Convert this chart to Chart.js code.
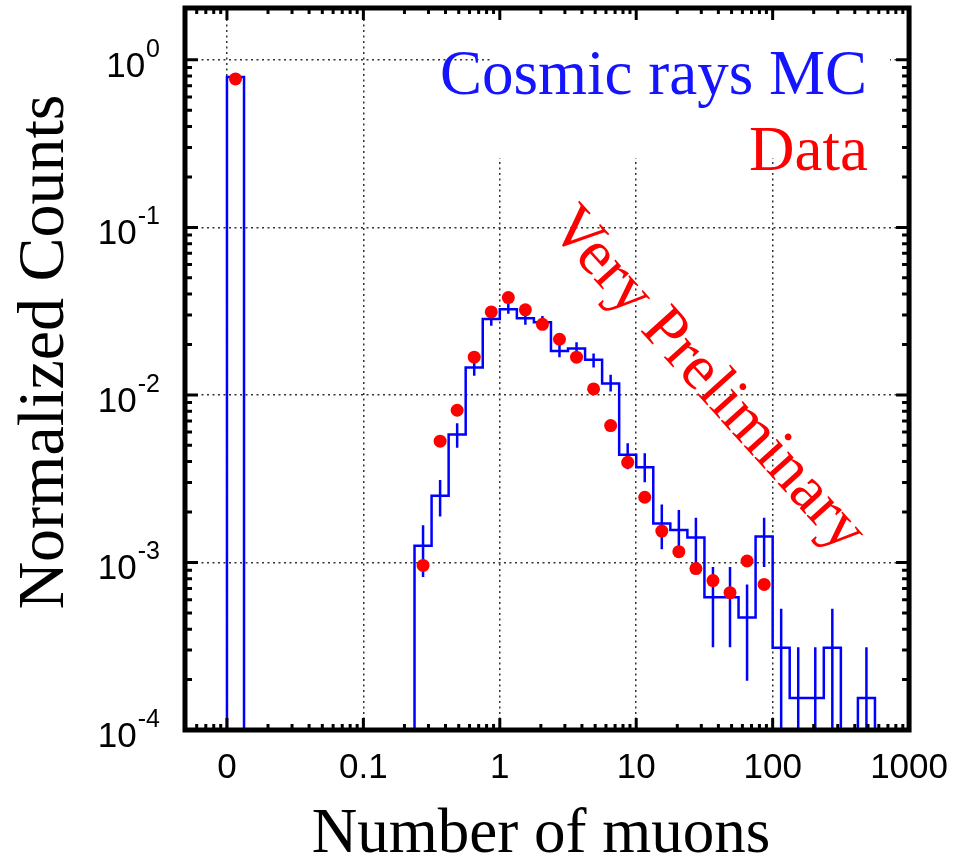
<!DOCTYPE html>
<html lang="en">
<head>
    <meta charset="UTF-8">
    <title>Number of muons - Cosmic rays MC vs Data</title>
    <script src="https://cdn.jsdelivr.net/npm/chart.js"></script>
    <style>
        html, body {
            margin: 0;
            padding: 0;
            background: #fff;
        }
        canvas { display: block; }
    </style>
</head>
<body>
    <canvas id="muonChart" width="965" height="864"></canvas>
    <script>
      // the "0" bin is drawn at 0.01 on the log axis
      const zeroBin = [0.01, 0.01334];
      // bin edges, 8 per decade
      const binEdges = [0.2371, 0.3162, 0.4217, 0.5623, 0.7499, 1.0, 1.3335, 1.7783, 2.3714,
                        3.1623, 4.2170, 5.6234, 7.4989, 10, 13.335, 17.783, 23.714, 31.623,
                        42.170, 56.234, 74.989, 100, 133.35, 177.83, 237.14, 316.23, 421.70, 562.34];

      // Cosmic rays MC (blue histogram)
      const mcZero = 0.79;
      const mcValues = [1.26e-3, 2.5e-3, 5.8e-3, 1.46e-2, 2.84e-2, 3.25e-2, 2.87e-2, 2.72e-2, 1.83e-2,
                        1.89e-2, 1.62e-2, 1.17e-2, 4.4e-3, 3.7e-3, 1.71e-3, 1.56e-3, 1.41e-3, 6.2e-4,
                        6.2e-4, 4.7e-4, 1.43e-3, 3.1e-4, 1.55e-4, 1.55e-4, 3.1e-4, 0, 1.55e-4];
      const mcErrHigh = [1.67e-3, 3.11e-3, 6.78e-3, 1.62e-2, 3.09e-2, 3.49e-2, 3.09e-2, 2.96e-2, 1.99e-2,
                         2.06e-2, 1.77e-2, 1.32e-2, 5.15e-3, 4.49e-3, 2.22e-3, 2.06e-3, 1.85e-3, 9.4e-4,
                         9.4e-4, 7.4e-4, 1.85e-3, 5.3e-4, 3.12e-4, 3.12e-4, 5.3e-4, 0, 3.12e-4];
      const mcErrLow = [8.2e-4, 1.88e-3, 4.84e-3, 1.30e-2, 2.59e-2, 3.05e-2, 2.62e-2, 2.51e-2, 1.68e-2,
                        1.73e-2, 1.46e-2, 1.05e-2, 3.60e-3, 3.01e-3, 1.20e-3, 1.07e-3, 9.9e-4, 3.12e-4,
                        3.12e-4, 1.97e-4, 9.4e-4, 0, 0, 0, 0, 0, 0];

      // Data (red points), one per bin starting with the first bin
      const dataZero = 0.77;
      const dataValues = [9.6e-4, 5.3e-3, 8.1e-3, 1.68e-2, 3.13e-2, 3.81e-2, 3.22e-2, 2.64e-2, 2.15e-2,
                          1.68e-2, 1.086e-2, 6.56e-3, 3.96e-3, 2.45e-3, 1.54e-3, 1.16e-3, 9.2e-4, 7.8e-4,
                          6.6e-4, 1.02e-3, 7.4e-4];

      // axes
      const xMin = 0.004926, xMax = 1000;
      const yMin = 1e-4, yMax = 2.04;
      const xTicks = [0.01, 0.1, 1, 10, 100, 1000];
      const xTickLabels = ['0', '0.1', '1', '10', '100', '1000'];
      const yTicks = [1e-4, 1e-3, 1e-2, 1e-1, 1];
      const yTickExps = ['-4', '-3', '-2', '-1', '0'];

      const FLOOR = 1e-6; // empty bins fall below the axis and are clipped
      const SERIF = '"Liberation Serif", "Times New Roman", serif';
      const SANS = '"Liberation Sans", Arial, sans-serif';

      // step outline
      const mcLine = [
        { x: zeroBin[0], y: FLOOR }, { x: zeroBin[0], y: mcZero }, { x: zeroBin[1], y: FLOOR }
      ];
      mcValues.forEach((v, i) => mcLine.push({ x: binEdges[i], y: v > 0 ? v : FLOOR }));
      mcLine.push({ x: binEdges[binEdges.length - 1], y: FLOOR });

      const centers = mcValues.map((v, i) => Math.sqrt(binEdges[i] * binEdges[i + 1]));

      const errPts = [];
      mcErrHigh.forEach((hi, i) => {
        if (!hi) return;
        errPts.push({ x: centers[i], y: mcErrLow[i] || FLOOR }, { x: centers[i], y: hi }, { x: centers[i], y: null });
      });

      const dataPts = [{ x: Math.sqrt(zeroBin[0] * zeroBin[1]), y: dataZero }];
      dataValues.forEach((v, i) => dataPts.push({ x: centers[i], y: v }));

      // minor tick positions
      const xMinor = [];
      [-3, -2, -1, 0, 1, 2].forEach(d => {
        for (let m = 2; m <= 9; m++) {
          const v = m * Math.pow(10, d);
          if (v > xMin * 1.02 && v < xMax) xMinor.push(v);
        }
      });
      const yMinor = [];
      [-4, -3, -2, -1, 0].forEach(d => {
        for (let m = 2; m <= 9; m++) {
          const v = m * Math.pow(10, d);
          if (v < yMax * 0.98) yMinor.push(v);
        }
      });

      const muonDecor = {
        id: 'muonDecor',
        beforeDatasetsDraw(chart) {
          // the legend block hides the grid behind it
          const c = chart.ctx, a = chart.chartArea;
          c.save();
          c.fillStyle = '#fff';
          c.fillRect(493, a.top, 397, 158 - a.top);
          c.restore();
        },
        afterDatasetsDraw(chart) {
          const c = chart.ctx, a = chart.chartArea;
          const xs = chart.scales.x, ys = chart.scales.y;
          c.save();
          c.strokeStyle = '#000';
          c.lineWidth = 3;
          c.beginPath();
          const xt = (v, len) => {
            const px = xs.getPixelForValue(v);
            c.moveTo(px, a.bottom); c.lineTo(px, a.bottom - len);
            c.moveTo(px, a.top); c.lineTo(px, a.top + len);
          };
          const yt = (v, len) => {
            const py = ys.getPixelForValue(v);
            c.moveTo(a.left, py); c.lineTo(a.left + len, py);
            c.moveTo(a.right, py); c.lineTo(a.right - len, py);
          };
          xTicks.forEach(v => xt(v, 12));
          xMinor.forEach(v => xt(v, 6));
          yTicks.forEach(v => yt(v, 13));
          yMinor.forEach(v => yt(v, 7));
          c.stroke();
          c.lineWidth = 5;
          c.strokeRect(a.left, a.top, a.right - a.left, a.bottom - a.top);
          c.restore();
        },
        afterDraw(chart) {
          const c = chart.ctx, ys = chart.scales.y;
          c.save();
          c.fillStyle = '#000';
          c.textAlign = 'right';
          c.textBaseline = 'alphabetic';
          // y tick labels 10^n
          yTicks.forEach((v, i) => {
            const py = ys.getPixelForValue(v);
            c.font = '25px ' + SANS;
            c.fillText(yTickExps[i], 160, py - 3);
            const w = c.measureText(yTickExps[i]).width;
            c.font = '35px ' + SANS;
            c.fillText('10', 159 - w, py + 17);
          });

          // axis titles
          c.textAlign = 'center';
          c.font = '63px ' + SERIF;
          c.fillText('Number of muons', 541, 852);
          c.save();
          c.translate(63, 352);
          c.rotate(-Math.PI / 2);
          c.font = '66px ' + SERIF;
          c.fillText('Normalized Counts', 0, 0);
          c.restore();

          // legend text
          c.textAlign = 'right';
          c.font = '63px ' + SERIF;
          c.fillStyle = '#1414ff';
          c.fillText('Cosmic rays MC', 867, 94);
          c.fillStyle = '#ff0000';
          c.fillText('Data', 868, 170);

          // stamp
          c.save();
          c.translate(707, 380);
          c.rotate(48 * Math.PI / 180);
          c.textAlign = 'center';
          c.textBaseline = 'middle';
          c.font = '64px ' + SERIF;
          c.fillText('Very Preliminary', 0, 0);
          c.restore();
          c.restore();
        }
      };

      const ctx = document.getElementById('muonChart').getContext('2d');
      new Chart(ctx, {
        type: 'scatter',
        data: {
          datasets: [
            {
              type: 'line',
              label: 'Cosmic rays MC',
              data: mcLine,
              stepped: 'before',
              borderColor: '#0000ff',
              borderWidth: 2.5,
              pointRadius: 0,
              fill: false,
              order: 3
            },
            {
              type: 'line',
              label: 'MC errors',
              data: errPts,
              borderColor: '#0000ff',
              borderWidth: 2.5,
              pointRadius: 0,
              spanGaps: false,
              fill: false,
              order: 2
            },
            {
              type: 'scatter',
              label: 'Data',
              data: dataPts,
              pointRadius: 6.5,
              pointHoverRadius: 6.5,
              backgroundColor: '#ff0000',
              borderWidth: 0,
              order: 1
            }
          ]
        },
        options: {
          responsive: false,
          animation: false,
          events: [],
          layout: { padding: { top: 8, right: 55, bottom: 0, left: 0 } },
          plugins: {
            legend: { display: false },
            tooltip: { enabled: false }
          },
          scales: {
            x: {
              type: 'logarithmic',
              min: xMin,
              max: xMax,
              afterBuildTicks: s => { s.ticks = xTicks.map(v => ({ value: v, major: true })); },
              afterFit: s => { s.height = 134; },
              grid: { color: '#333', lineWidth: 1.5, drawTicks: false },
              border: { display: false, dash: [2, 3.5] },
              ticks: {
                autoSkip: false,
                maxRotation: 0,
                padding: 17,
                color: '#000',
                font: { family: SANS, size: 35 },
                callback: (v, i) => xTickLabels[i]
              }
            },
            y: {
              type: 'logarithmic',
              min: yMin,
              max: yMax,
              afterBuildTicks: s => { s.ticks = yTicks.map(v => ({ value: v, major: true })); },
              afterFit: s => { s.width = 185; },
              grid: { color: '#333', lineWidth: 1.5, drawTicks: false },
              border: { display: false, dash: [2, 3.5] },
              ticks: { display: false }
            }
          }
        },
        plugins: [muonDecor]
      });
    </script>
</body>
</html>
